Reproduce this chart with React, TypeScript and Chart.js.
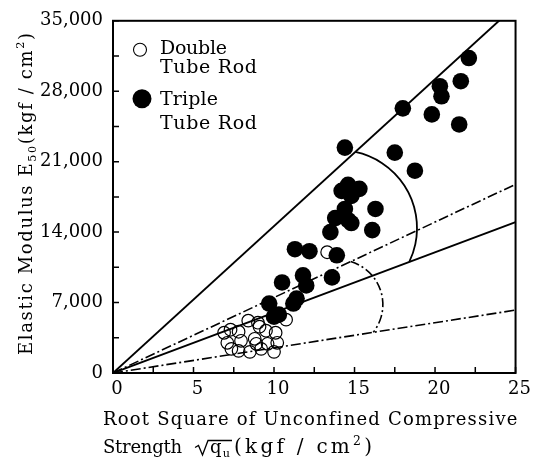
import React, { useEffect, useRef } from 'react';
import { Chart, registerables } from 'chart.js';
Chart.register(...registerables);

// ---- axes ----
const X_MIN = 0;
const X_MAX = 25;
const X_STEP = 2.5;
const X_LABEL_EVERY = 5;
const Y_MIN = 0;
const Y_MAX = 35000;
const Y_STEP = 3500;
const Y_LABEL_EVERY = 7000;

// ---- Triple Tube Rod (filled) ----
const tripleX = [22.1, 21.6, 20.3, 20.4, 18.0, 19.8, 21.5, 14.4, 17.5, 18.75, 14.6, 15.3, 14.2, 14.8, 16.3, 14.4, 14.6, 13.8, 14.8, 13.5, 16.1, 11.3, 12.2, 13.9, 11.8, 10.5, 13.6, 12.0, 11.4, 11.2, 9.7, 10.3, 10.0];
const tripleY = [31300, 29000, 28500, 27500, 26300, 25700, 24700, 22400, 21900, 20100, 18700, 18300, 18100, 17600, 16300, 16300, 15200, 15400, 14900, 14000, 14200, 12300, 12100, 11700, 9700, 9000, 9500, 8700, 7400, 6900, 6900, 5800, 5600];

// ---- Double Tube Rod (open) ----
const doubleX = [6.9, 7.3, 7.8, 8.4, 9.0, 9.5, 10.1, 10.75, 7.1, 7.95, 8.8, 9.6, 10.2, 7.35, 8.5, 9.2, 10.0, 7.8, 8.9, 9.1, 13.3];
const doubleY = [4000, 4300, 4100, 5200, 5000, 4200, 4000, 5300, 3000, 3200, 3400, 2900, 3000, 2400, 2100, 2400, 2100, 2200, 2900, 4600, 12000];

// ---- reference lines through the origin (E = k * sqrt(qu)) ----
const LINE_SLOPES = [1460, 750, 600, 250];
const LINE_DASHED = [false, true, false, true];

// ---- arcs: centre (data), radius (x units), bounded by two reference lines ----
const ARC_CX = [14.05, 13.98];
const ARC_CY = [14400, 6800];
const ARC_R = [4.83, 2.78];
const ARC_FROM = [0, 1];
const ARC_TO = [2, 3];
const ARC_DASHED = [false, true];

const FONT = '"DejaVu Serif", serif';
const DASH = [10, 3, 2, 3];

type Seg = { t: string; k?: 'sub' | 'sup' };

// draws a run of text segments, spreading letters so the run spans `target` px
function drawRich(ctx: CanvasRenderingContext2D, x: number, y: number, segs: Seg[], size: number, target: number) {
  const fontFor = (s: Seg) => `${s.k ? size * 0.62 : size}px ${FONT}`;
  (ctx as any).letterSpacing = '0px';
  let w0 = 0;
  for (const s of segs) {
    ctx.font = fontFor(s);
    w0 += ctx.measureText(s.t).width;
  }
  const nChars = segs.reduce((a, s) => a + s.t.length, 0);
  const sp = (target - w0) / Math.max(1, nChars - 1);
  (ctx as any).letterSpacing = sp + 'px';
  let cx = x;
  for (const s of segs) {
    ctx.font = fontFor(s);
    const dy = s.k === 'sub' ? size * 0.22 : s.k === 'sup' ? -size * 0.42 : 0;
    ctx.fillText(s.t, cx, y + dy);
    cx += ctx.measureText(s.t).width;
  }
  (ctx as any).letterSpacing = '0px';
  return cx;
}

const decorPlugin = {
  id: 'decor',
  beforeDatasetsDraw(chart: any) {
    const { ctx, chartArea: a, scales } = chart;
    const xs = scales.x;
    const ys = scales.y;
    const ox = xs.getPixelForValue(0);
    const oy = ys.getPixelForValue(0);
    ctx.save();
    ctx.beginPath();
    ctx.rect(a.left, a.top, a.right - a.left, a.bottom - a.top);
    ctx.clip();
    ctx.strokeStyle = '#000';
    for (let i = 0; i < ARC_CX.length; i++) {
      const cx = xs.getPixelForValue(ARC_CX[i]);
      const cy = ys.getPixelForValue(ARC_CY[i]);
      const r = xs.getPixelForValue(ARC_R[i]) - xs.getPixelForValue(0);
      const angleFor = (slope: number) => {
        const ex = xs.getPixelForValue(10) - ox;
        const ey = ys.getPixelForValue(slope * 10) - oy;
        const len = Math.hypot(ex, ey);
        const ux = ex / len;
        const uy = ey / len;
        const vx = cx - ox;
        const vy = cy - oy;
        const proj = vx * ux + vy * uy;
        const perp = vx * uy - vy * ux;
        const t = proj + Math.sqrt(Math.max(0, r * r - perp * perp));
        return Math.atan2(oy + uy * t - cy, ox + ux * t - cx);
      };
      const a1 = angleFor(LINE_SLOPES[ARC_FROM[i]]);
      const a2 = angleFor(LINE_SLOPES[ARC_TO[i]]);
      ctx.beginPath();
      ctx.lineWidth = ARC_DASHED[i] ? 1.6 : 1.8;
      ctx.setLineDash(ARC_DASHED[i] ? [9, 3, 2, 3] : []);
      ctx.arc(cx, cy, r, a1, a2, false);
      ctx.stroke();
    }
    ctx.restore();
  },
  afterDatasetsDraw(chart: any) {
    const { ctx, chartArea: a, scales } = chart;
    const xs = scales.x;
    const ys = scales.y;
    ctx.save();
    ctx.strokeStyle = '#000';
    ctx.fillStyle = '#000';
    ctx.setLineDash([]);
    // frame
    ctx.lineWidth = 2;
    ctx.strokeRect(a.left, a.top, a.right - a.left, a.bottom - a.top);
    // inward ticks
    ctx.lineWidth = 1.5;
    ctx.beginPath();
    for (const t of xs.ticks) {
      const px = xs.getPixelForValue(t.value);
      ctx.moveTo(px, a.bottom);
      ctx.lineTo(px, a.bottom - 6);
    }
    for (const t of ys.ticks) {
      const py = ys.getPixelForValue(t.value);
      ctx.moveTo(a.left, py);
      ctx.lineTo(a.left + 6, py);
    }
    ctx.stroke();

    // legend
    ctx.textBaseline = 'alphabetic';
    ctx.textAlign = 'left';
    ctx.beginPath();
    ctx.lineWidth = 1.1;
    ctx.arc(a.left + 27, a.top + 29, 6.5, 0, Math.PI * 2);
    ctx.stroke();
    ctx.beginPath();
    ctx.arc(a.left + 29, a.top + 78, 9.5, 0, Math.PI * 2);
    ctx.fill();
    const lx = a.left + 47;
    drawRich(ctx, lx, a.top + 33, [{ t: 'Double' }], 19, 67);
    drawRich(ctx, lx, a.top + 52, [{ t: 'Tube Rod' }], 19, 97);
    drawRich(ctx, lx, a.top + 84, [{ t: 'Triple' }], 19, 58);
    drawRich(ctx, lx, a.top + 108, [{ t: 'Tube Rod' }], 19, 97);

    // x title
    drawRich(ctx, 103, 425, [{ t: 'Root Square of Unconfined Compressive' }], 18, 414);
    drawRich(ctx, 103, 453, [{ t: 'Strength' }], 18, 79);
    // radical sign over q_u
    ctx.beginPath();
    ctx.lineWidth = 1.3;
    ctx.moveTo(195, 447.5);
    ctx.lineTo(198.5, 445.5);
    ctx.lineTo(202.5, 455);
    ctx.lineTo(208, 440.5);
    ctx.lineTo(232, 440.5);
    ctx.stroke();
    drawRich(ctx, 210, 453, [{ t: 'q' }, { t: 'u', k: 'sub' }], 18, 20);
    drawRich(ctx, 234, 453, [{ t: '(kgf / cm' }, { t: '2', k: 'sup' }, { t: ')' }], 20, 138);

    // y title
    ctx.save();
    ctx.translate(32, 355);
    ctx.rotate(-Math.PI / 2);
    drawRich(ctx, 0, 0, [
      { t: 'Elastic Modulus E' },
      { t: '50', k: 'sub' },
      { t: '(kgf / cm' },
      { t: '2', k: 'sup' },
      { t: ')' },
    ], 18, 322);
    ctx.restore();
    ctx.restore();
  },
};

export default function App() {
  const ref = useRef<HTMLCanvasElement | null>(null);
  useEffect(() => {
    if (!ref.current) return;
    const lineSets = LINE_SLOPES.map((k, i) => ({
      type: 'line' as const,
      label: 'line' + i,
      data: [
        { x: X_MIN, y: k * X_MIN },
        { x: X_MAX, y: k * X_MAX },
      ],
      borderColor: '#000',
      borderWidth: LINE_DASHED[i] ? 1.6 : 1.9,
      borderDash: LINE_DASHED[i] ? DASH : [],
      pointRadius: 0,
      showLine: true,
      fill: false,
      tension: 0,
    }));
    const chart = new Chart(ref.current, {
      type: 'scatter',
      data: {
        datasets: [
          {
            label: 'Triple Tube Rod',
            data: tripleX.map((x, i) => ({ x, y: tripleY[i] })),
            pointRadius: 8.3,
            pointBackgroundColor: '#000',
            pointBorderWidth: 0,
            pointBorderColor: '#000',
          },
          {
            label: 'Double Tube Rod',
            data: doubleX.map((x, i) => ({ x, y: doubleY[i] })),
            pointRadius: 6.3,
            pointBackgroundColor: 'rgba(0,0,0,0)',
            pointBorderColor: '#000',
            pointBorderWidth: 1.2,
          },
          ...(lineSets as any[]),
        ],
      },
      options: {
        animation: false,
        responsive: true,
        maintainAspectRatio: false,
        layout: { padding: { left: 0, top: 13, right: 16, bottom: 0 } },
        plugins: { legend: { display: false }, tooltip: { enabled: false } },
        scales: {
          x: {
            type: 'linear',
            min: X_MIN,
            max: X_MAX,
            grid: { display: false, drawTicks: false },
            border: { display: false },
            afterFit: (s: any) => { s.height = 100; },
            ticks: {
              stepSize: X_STEP,
              autoSkip: false,
              maxRotation: 0,
              padding: 6,
              labelOffset: 4,
              color: '#000',
              font: { family: FONT, size: 18 },
              callback: (v: any) => (Number(v) % X_LABEL_EVERY === 0 ? String(v) : ''),
            },
          },
          y: {
            type: 'linear',
            min: Y_MIN,
            max: Y_MAX,
            grid: { display: false, drawTicks: false },
            border: { display: false },
            afterFit: (s: any) => { s.width = 113; },
            ticks: {
              stepSize: Y_STEP,
              autoSkip: false,
              padding: 10,
              color: '#000',
              font: { family: FONT, size: 18 },
              callback: (v: any) => (Number(v) % Y_LABEL_EVERY === 0 ? Number(v).toLocaleString('en-US') : ''),
            },
          },
        },
      },
      plugins: [decorPlugin],
    });
    return () => chart.destroy();
  }, []);
  return (
    <div style={{ position: 'fixed', left: 0, top: 0, width: 533, height: 473, background: '#fff' }}>
      <canvas ref={ref} />
    </div>
  );
}
